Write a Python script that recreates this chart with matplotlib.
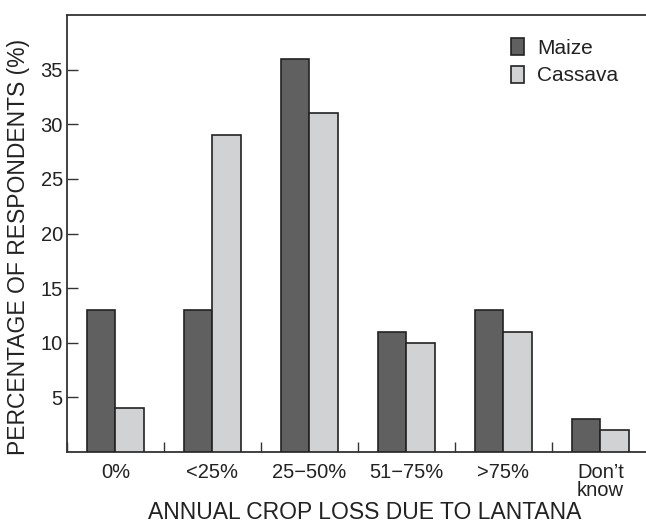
import numpy as np
import matplotlib
matplotlib.use('Agg')
import matplotlib.pyplot as plt

plt.rcParams.update({
    'font.family': ['Liberation Sans', 'DejaVu Sans'],
    'font.size': 14,
})

# Data
categories = ['0%', '<25%', '25\u221250%', '51\u221275%', '>75%', 'Don\u2019t\nknow']
maize = [13, 13, 36, 11, 13, 3]
cassava = [4, 29, 31, 10, 11, 2]

MAIZE_COLOR = '#606060'
CASSAVA_COLOR = '#d1d2d4'
EDGE = '#222222'
TEXT = '#222222'

fig = plt.figure(figsize=(6.46, 5.23), dpi=100)
ax = fig.add_axes([67 / 646, 71 / 523, 1 - 67 / 646, (452 - 15) / 523])

x = np.arange(len(categories))
w = 0.29

ax.bar(x - w / 2, maize, width=w, color=MAIZE_COLOR, edgecolor=EDGE,
       linewidth=1.2, label='Maize', zorder=3)
ax.bar(x + w / 2, cassava, width=w, color=CASSAVA_COLOR, edgecolor=EDGE,
       linewidth=1.2, label='Cassava', zorder=3)

ax.set_xlim(-0.5, 5.47)
ax.set_ylim(0, 40)

ax.set_yticks([5, 10, 15, 20, 25, 30, 35])
ax.set_xticks(x)
ax.set_xticklabels(categories, linespacing=0.9)
ax.set_xticks(np.arange(-0.5, 5, 1.0), minor=True)

ax.tick_params(axis='y', direction='in', length=8, width=1.0, colors='#333333',
               labelcolor=TEXT, labelsize=14.5, pad=3)
ax.tick_params(axis='x', which='major', length=0, labelcolor=TEXT,
               labelsize=14.5, pad=8)
ax.tick_params(axis='x', which='minor', direction='in', length=7, width=1.0,
               colors='#333333')

for side in ['left', 'top', 'bottom']:
    ax.spines[side].set_color('#333333')
    ax.spines[side].set_linewidth(1.3)
ax.spines['right'].set_visible(False)

ax.set_ylabel('PERCENTAGE OF RESPONDENTS (%)', fontsize=16.5, color=TEXT)
ax.yaxis.set_label_coords(-0.064, 0.469)
ax.set_xlabel('ANNUAL CROP LOSS DUE TO LANTANA', fontsize=16.5, color=TEXT)
ax.xaxis.set_label_coords((365 - 67) / 579, -0.112)

leg = ax.legend(loc='upper right', bbox_to_anchor=(0.985, 0.99), frameon=False,
                fontsize=15, handlelength=0.6, handleheight=0.85,
                handletextpad=0.65, labelspacing=0.4)
for t in leg.get_texts():
    t.set_color(TEXT)

fig.savefig('out.png', dpi=100)
plt.close(fig)
